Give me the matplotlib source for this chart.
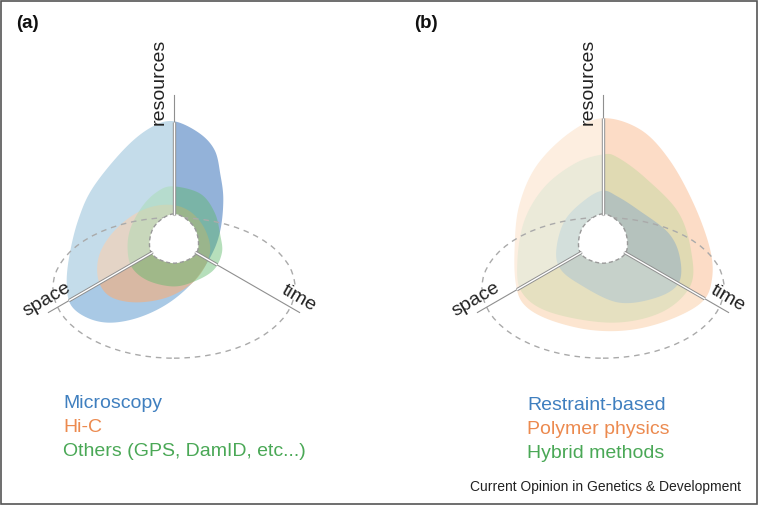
import numpy as np
import matplotlib
matplotlib.use("Agg")
import matplotlib.pyplot as plt
from matplotlib.patches import Polygon, Wedge, Ellipse, Rectangle
from matplotlib.path import Path

plt.rcParams["font.family"] = ["Liberation Sans", "DejaVu Sans"]

# ── Data (units: axis length = 1, panel centre at 0,0, y up) ──────────────────
AXES = ["resources", "space", "time"]
AXIS_ANGLES = [90, 210, 330]                       # degrees

# panel (a)
MICRO_PTS = [(-0.01, 0.82), (0.17, 0.74), (0.28, 0.62), (0.32, 0.45), (0.34, 0.28),
             (0.32, 0.07), (0.26, -0.10), (0.14, -0.28), (-0.03, -0.43), (-0.23, -0.53),
             (-0.43, -0.57), (-0.59, -0.54), (-0.71, -0.45), (-0.74, -0.30), (-0.72, -0.10),
             (-0.66, 0.14), (-0.56, 0.36), (-0.35, 0.62), (-0.17, 0.77)]
HIC_PTS = [(0.0, 0.24), (0.12, 0.19), (0.21, 0.08), (0.25, -0.06), (0.21, -0.19),
           (0.11, -0.31), (-0.06, -0.40), (-0.27, -0.43), (-0.44, -0.39), (-0.52, -0.28),
           (-0.52, -0.12), (-0.44, 0.03), (-0.30, 0.16), (-0.15, 0.23)]
OTHERS_PTS = [(-0.01, 0.37), (0.18, 0.32), (0.28, 0.19), (0.32, 0.03), (0.33, -0.09),
              (0.27, -0.21), (0.13, -0.29), (-0.01, -0.32), (-0.18, -0.28), (-0.29, -0.19),
              (-0.32, -0.06), (-0.30, 0.08), (-0.22, 0.23), (-0.12, 0.33)]

# panel (b)
POLYMER_PTS = [(0.0, 0.84), (0.26, 0.76), (0.46, 0.55), (0.63, 0.24), (0.74, -0.07),
               (0.75, -0.28), (0.68, -0.43), (0.46, -0.55), (0.19, -0.62), (-0.09, -0.62),
               (-0.37, -0.55), (-0.54, -0.45), (-0.60, -0.31), (-0.61, -0.07), (-0.58, 0.23),
               (-0.46, 0.51), (-0.23, 0.74)]
HYBRID_PTS = [(0.0, 0.59), (0.10, 0.57), (0.29, 0.43), (0.52, 0.19), (0.61, -0.09),
              (0.60, -0.32), (0.40, -0.50), (0.06, -0.57), (-0.36, -0.50), (-0.56, -0.36),
              (-0.59, -0.14), (-0.54, 0.14), (-0.40, 0.37), (-0.19, 0.53)]
RESTRAINT_PTS = [(0.0, 0.34), (0.10, 0.30), (0.24, 0.21), (0.45, 0.05), (0.53, -0.12),
                 (0.52, -0.30), (0.36, -0.40), (0.10, -0.43), (-0.17, -0.30), (-0.30, -0.19),
                 (-0.32, -0.05), (-0.26, 0.14), (-0.12, 0.28)]

HOLE_ANG = [90, 150, 210, 270, 330, 30]
HOLE_R = [0.18, 0.165, 0.18, 0.16, 0.18, 0.165]

LEGEND_A = ["Microscopy", "Hi-C", "Others (GPS, DamID, etc...)"]
LEGEND_B = ["Restraint-based", "Polymer physics", "Hybrid methods"]
CREDIT = "Current Opinion in Genetics & Development"

# sector colours: (upper-left, bottom, upper-right)
SECTORS = [(90, 210), (210, 330), (-30, 90)]
STYLE_A = [  # points, sector colours, alpha
    (MICRO_PTS, ["#c4dcea", "#a9c9e5", "#93b2d9"], 1.0),
    (HIC_PTS, ["#fbd0ae", "#f9ad77", "#f5b488"], 0.6),
    (OTHERS_PTS, ["#a6dcae", "#5db86a", "#5db86a"], 0.45),
]
STYLE_B = [
    (POLYMER_PTS, ["#fdeee0", "#fce5d0", "#fcdcc6"], 1.0),
    (HYBRID_PTS, ["#ebead9", "#e5e0c0", "#e0dab3"], 1.0),
    (RESTRAINT_PTS, ["#d3dfdb", "#c6d1ca", "#b5c2bd"], 1.0),
]
COLORS_A = ["#3f7fbf", "#ec8a4f", "#4aa856"]
COLORS_B = ["#3f7fbf", "#ec8a4f", "#4aa856"]

W, H = 758, 505
SCALE = 145.0   # pixels per axis length


def smooth_closed(pts, n=30):
    """closed Catmull-Rom spline through the control points"""
    P = np.asarray(pts, dtype=float)
    m = len(P)
    t = np.linspace(0, 1, n, endpoint=False)[:, None]
    out = []
    for i in range(m):
        p0, p1, p2, p3 = P[i - 1], P[i], P[(i + 1) % m], P[(i + 2) % m]
        out.append(0.5 * (2 * p1 + (-p0 + p2) * t + (2 * p0 - 5 * p1 + 4 * p2 - p3) * t ** 2
                          + (-p0 + 3 * p1 - 3 * p2 + p3) * t ** 3))
    return np.vstack(out)


def draw_panel(ax, styles):
    paths = []
    for pts, cols, alpha in styles:
        xy = smooth_closed(pts)
        paths.append(Path(xy))
        for (t1, t2), c in zip(SECTORS, cols):
            wedge = Wedge((0, 0), 5, t1, t2, transform=ax.transData)
            poly = Polygon(xy, closed=True, fc=c, ec="none", alpha=alpha, zorder=1)
            ax.add_patch(poly)
            poly.set_clip_path(wedge)

    # ground ellipse (dashed)
    ax.add_patch(Ellipse((0, -0.33), 1.67, 0.97, fill=False, ec="#aaaaaa", lw=1.0,
                         ls=(0, (4, 3.5)), zorder=2))

    # central hole
    ang = np.radians(HOLE_ANG)
    hole = smooth_closed(np.c_[np.array(HOLE_R) * np.cos(ang), np.array(HOLE_R) * np.sin(ang)])
    ax.add_patch(Polygon(hole, closed=True, fc="white", ec="#999999", lw=1.0,
                         ls=(0, (3, 2)), zorder=3))

    # axes: double line inside the shapes, single line beyond
    for name, a in zip(AXES, AXIS_ANGLES):
        d = np.array([np.cos(np.radians(a)), np.sin(np.radians(a))])
        r = np.linspace(0.15, 1.0, 400)
        inside = np.zeros_like(r, dtype=bool)
        for p in paths:
            inside |= p.contains_points(r[:, None] * d)
        r_in = r[inside].max() if inside.any() else 0.2
        r0 = 0.17
        ax.plot([r0 * d[0], 1.0 * d[0]], [r0 * d[1], 1.0 * d[1]], color="#8f8f8f", lw=0.8, zorder=4)
        ax.plot([r0 * d[0], r_in * d[0]], [r0 * d[1], r_in * d[1]], color="#8f8f8f", lw=2.4,
                solid_capstyle="butt", zorder=4)
        ax.plot([r0 * d[0], r_in * d[0]], [r0 * d[1], r_in * d[1]], color="white", lw=1.0,
                solid_capstyle="butt", zorder=5)

    ax.text(-0.10, 1.09, "resources", rotation=90, ha="center", va="center", fontsize=14,
            color="#222222")
    ax.text(-0.88, -0.41, "space", rotation=30, ha="center", va="center", fontsize=14,
            color="#222222")
    ax.text(0.86, -0.40, "time", rotation=-30, ha="center", va="center", fontsize=14,
            color="#222222")
    ax.set_aspect("equal")
    ax.axis("off")


fig = plt.figure(figsize=(W / 100, H / 100), dpi=100)


def add_panel_axes(cx, cy, x0, x1):
    # axes covering pixel box x0..x1, 0..380, with centre (cx, cy) at data (0, 0)
    ax = fig.add_axes([x0 / W, 1 - 380 / H, (x1 - x0) / W, 380 / H])
    ax.set_xlim((x0 - cx) / SCALE, (x1 - cx) / SCALE)
    ax.set_ylim((cy - 380) / SCALE, cy / SCALE)
    return ax


ax_a = add_panel_axes(174, 240, 0, 379)
ax_b = add_panel_axes(603, 240, 379, 758)
draw_panel(ax_a, STYLE_A)
draw_panel(ax_b, STYLE_B)


def px(x, y):
    return x / W, 1 - y / H


fig.text(*px(16, 24), "(a)", fontsize=13.5, fontweight="bold", va="center", color="#111111")
fig.text(*px(414, 24), "(b)", fontsize=13.5, fontweight="bold", va="center", color="#111111")

for i, (t, c) in enumerate(zip(LEGEND_A, COLORS_A)):
    fig.text(*px(63, 404 + 24 * i), t, fontsize=14, color=c, va="center")
for i, (t, c) in enumerate(zip(LEGEND_B, COLORS_B)):
    fig.text(*px(527, 405 + 24 * i), t, fontsize=14, color=c, va="center")
fig.text(*px(741, 487), CREDIT, fontsize=10, ha="right", va="center", color="#222222")

fig.patches.append(Rectangle((0.0015, 0.002), 0.997, 0.996, transform=fig.transFigure,
                             fill=False, ec="#555555", lw=1.2))

fig.savefig("out.png", dpi=100)
